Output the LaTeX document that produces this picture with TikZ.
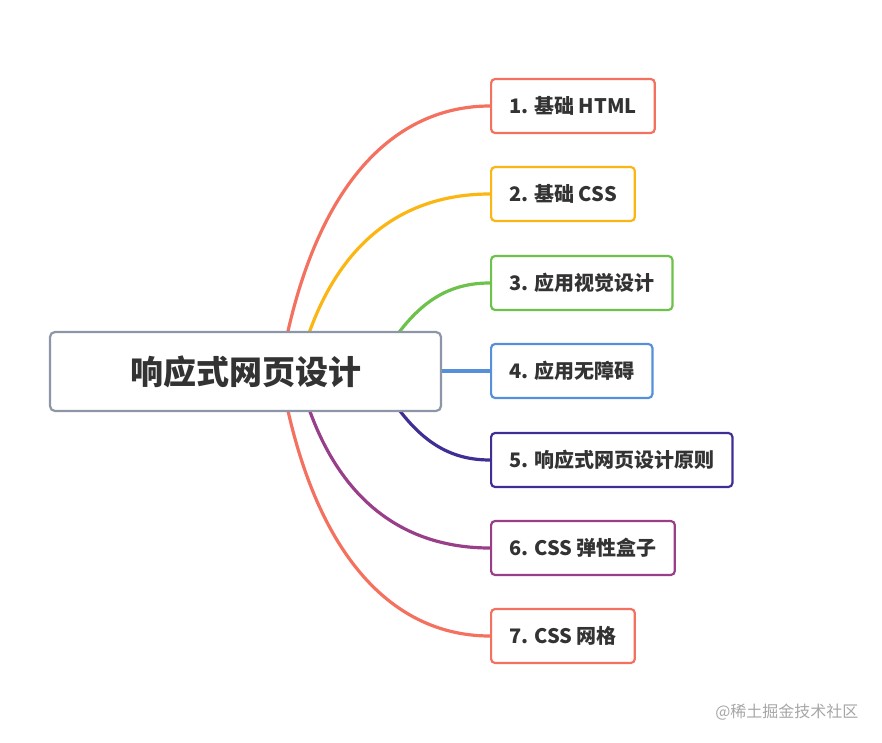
\documentclass[tikz,border=0pt]{standalone}
\usepackage{fontspec}
\setmainfont{Noto Sans CJK SC}
\usetikzlibrary{positioning}
\definecolor{cRed}{HTML}{F4705F}
\definecolor{cYel}{HTML}{FBB614}
\definecolor{cGrn}{HTML}{6CC24A}
\definecolor{cBlu}{HTML}{5590D9}
\definecolor{cInd}{HTML}{3F2F95}
\definecolor{cPur}{HTML}{993F89}
\definecolor{cGry}{HTML}{8C96A6}
\definecolor{cTxt}{HTML}{333333}
\tikzset{
  leaf/.style={draw=#1, line width=2.2pt, rounded corners=4pt, fill=white, anchor=west,
    minimum height=54pt, inner xsep=18pt, font=\fontsize{20}{24}\selectfont\bfseries, text=cTxt},
  branch/.style={draw=#1, line width=3.2pt, line cap=round},
}
\begin{document}
\begin{tikzpicture}[x=1pt, y=-1pt]
        \useasboundingbox (0,0) rectangle (882,743);
        % Nodes
        \node (b1) [leaf=cRed] at (490,106) {1. 基础 HTML};
        \node (b2) [leaf=cYel] at (490,194) {2. 基础 CSS};
        \node (b3) [leaf=cGrn] at (490,283) {3. 应用视觉设计};
        \node (b4) [leaf=cBlu] at (490,371) {4. 应用无障碍};
        \node (b5) [leaf=cInd] at (490,460) {5. 响应式网页设计原则};
        \node (b6) [leaf=cPur] at (490,548) {6. CSS 弹性盒子};
        \node (b7) [leaf=cRed] at (490,636) {7. CSS 网格};
        \coordinate (s1) at (285,345);
        \coordinate (s2) at (305,345);
        \coordinate (s3) at (390,345);
        \coordinate (s4) at (430,371);
        \coordinate (s5) at (390,397);
        \coordinate (s6) at (305,397);
        \coordinate (s7) at (285,397);

        % Edges
        \draw[branch=cRed] (s1) .. controls (320,175) and (400,106) .. (b1.west);
        \draw[branch=cYel] (s2) .. controls (340,235) and (410,194) .. (b2.west);
        \draw[branch=cGrn] (s3) .. controls (420,300) and (450,283) .. (b3.west);
        \draw[branch=cBlu] (s4) -- (b4.west);
        \draw[branch=cInd] (s5) .. controls (420,442) and (450,460) .. (b5.west);
        \draw[branch=cPur] (s6) .. controls (340,507) and (410,548) .. (b6.west);
        \draw[branch=cRed] (s7) .. controls (320,567) and (400,636) .. (b7.west);

        \node (root) [draw=cGry, line width=2.2pt, rounded corners=5pt, fill=white,
          minimum width=391pt, minimum height=79pt, text=cTxt,
          font=\fontsize{33}{40}\selectfont\bfseries] at (245.5,371.5) {响应式网页设计};
        \node (mark) [anchor=east, text=gray!70, font=\fontsize{16}{18}\selectfont] at (862,712) {@稀土掘金技术社区};
    \end{tikzpicture}
\end{document}
